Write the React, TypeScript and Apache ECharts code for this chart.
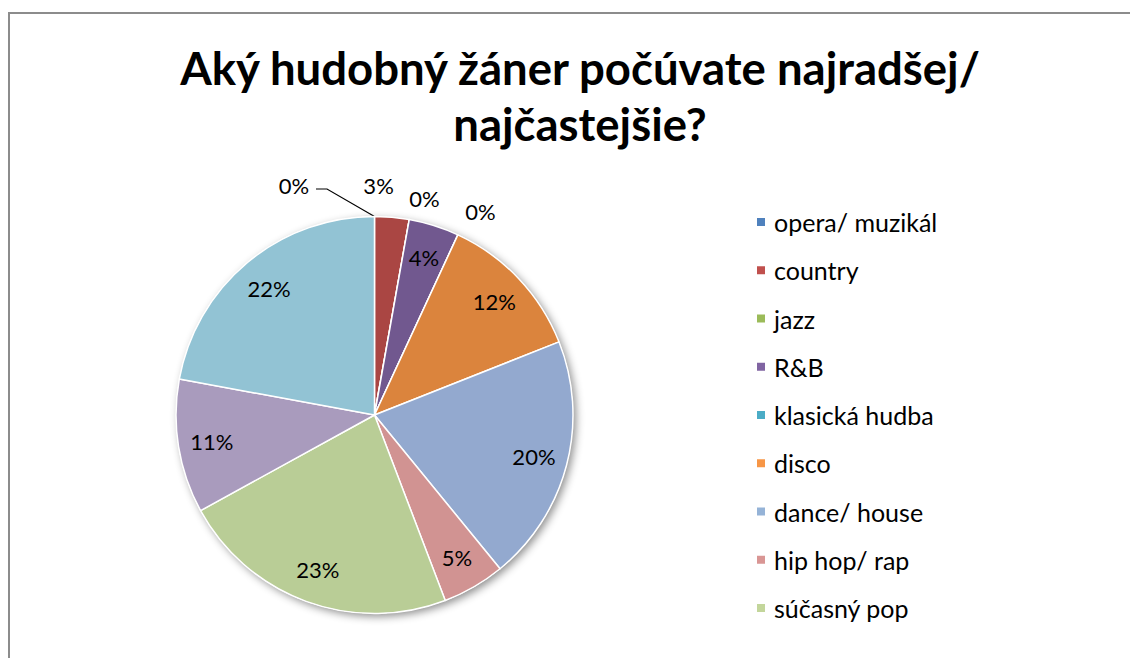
import React, { useEffect, useRef } from "react";
import * as echarts from "echarts";

// ---- data ----
const titleText = "Aký hudobný žáner počúvate najradšej/\nnajčastejšie?";
const categories = [
  "opera/ muzikál",
  "country",
  "jazz",
  "R&B",
  "klasická hudba",
  "disco",
  "dance/ house",
  "hip hop/ rap",
  "súčasný pop",
  "rock",
  "iné",
];
// share of answers (%)
const shares = [0, 2.8, 0, 4.1, 0, 12.1, 20.1, 5.1, 22.8, 10.9, 22.1];
// legend in the reference lists only the first nine categories
const legendCategories = categories.slice(0, 9);

// ---- styles ----
const sliceColors = [
  "#4F81BD", "#AA4643", "#9BBB59", "#71588F", "#4BACC6", "#DB843D",
  "#93A9CF", "#D19392", "#B9CD96", "#A99BBD", "#92C3D4",
];
const legendColors = [
  "#4F81BD", "#C0504D", "#9BBB59", "#8064A2", "#4BACC6", "#F79646",
  "#95B3D7", "#D99694", "#C3D69B",
];
const FONT = "Lato, 'Open Sans', sans-serif";
const CX = 366.5;
const CY = 407;
const R = 198.5;
const INSIDE_R = 0.83 * R;
const OUTSIDE_R = R + 30;
// fine nudges for the crowded outside labels (px)
const outsideNudge: Record<number, [number, number]> = {
  1: [-16, -2],
  2: [10, 8],
  4: [10, 4],
};

export default function App() {
  const ref = useRef<HTMLDivElement>(null);
  useEffect(() => {
    if (!ref.current) return;
    const chart = echarts.init(ref.current, undefined, { renderer: "svg" });
    const total = shares.reduce((a, b) => a + b, 0);
    const midAngle = (i: number) => {
      let cum = 0;
      for (let k = 0; k < i; k++) cum += shares[k];
      return ((cum + shares[i] / 2) / total) * Math.PI * 2;
    };
    const startAngle = (i: number) => {
      let cum = 0;
      for (let k = 0; k < i; k++) cum += shares[k];
      return (cum / total) * Math.PI * 2;
    };
    const isInside = (i: number) => shares[i] >= 4;

    const data = categories.map((name, i) => {
      const item: any = {
        name,
        value: shares[i],
        itemStyle: { color: sliceColors[i] },
      };
      if (i === 0) {
        item.label = { position: "outside" };
        item.labelLine = {
          show: true,
          lineStyle: { color: "#000", width: 1.2 },
        };
      }
      return item;
    });

    chart.setOption({
      animation: false,
      backgroundColor: "#fff",
      legend: {
        orient: "vertical",
        left: 742,
        top: 196.5,
        icon: "rect",
        itemWidth: 10,
        itemHeight: 10,
        itemGap: 23.25,
        selectedMode: false,
        textStyle: {
          fontFamily: FONT,
          fontSize: 25,
          lineHeight: 22,
          color: "#000",
          padding: [0, 0, 0, 3],
        },
        data: legendCategories.map((name, i) => ({
          name,
          itemStyle: { color: legendColors[i] },
        })),
      },
      graphic: [
        {
          type: "rect",
          shape: { x: 1, y: 5, width: 1300, height: 800 },
          style: { fill: "none", stroke: "#8c8c8c", lineWidth: 2 },
          silent: true,
          z: 100,
        },
        {
          type: "text",
          x: 572,
          y: 31,
          style: {
            text: titleText,
            font: `bold 45.5px ${FONT}`,
            fill: "#000",
            align: "center",
            verticalAlign: "top",
            lineHeight: 56,
          },
          silent: true,
        },
      ],
      series: [
        {
          type: "pie",
          center: [CX, CY],
          radius: R,
          silent: true,
          label: { show: false },
          labelLine: { show: false },
          itemStyle: {
            color: "#fff",
            shadowBlur: 8,
            shadowOffsetX: 3,
            shadowOffsetY: 3,
            shadowColor: "rgba(0,0,0,0.45)",
          },
          data: [{ value: 1, name: "__shadow" }],
        },
        {
          type: "pie",
          center: [CX, CY],
          radius: R,
          startAngle: 90,
          clockwise: true,
          avoidLabelOverlap: false,
          silent: true,
          itemStyle: { borderColor: "#fff", borderWidth: 1.5 },
          label: {
            show: true,
            position: "inside",
            color: "#000",
            fontFamily: FONT,
            fontSize: 22,
            formatter: (p: any) => Math.round(p.value) + "%",
          },
          labelLine: { show: false },
          labelLayout: (p: any) => {
            const i = p.dataIndex;
            if (i === 0) {
              const a = startAngle(0);
              const ex = CX + R * Math.sin(a);
              const ey = CY - R * Math.cos(a);
              return {
                x: 286,
                y: 177,
                align: "center",
                verticalAlign: "middle",
                labelLinePoints: [
                  [ex, ey],
                  [319, 181],
                  [308, 181],
                ],
              };
            }
            const a = midAngle(i);
            const r = isInside(i) ? INSIDE_R : OUTSIDE_R;
            const n = outsideNudge[i] || [0, 0];
            return {
              x: CX + r * Math.sin(a) + n[0],
              y: CY - r * Math.cos(a) + n[1],
              align: "center",
              verticalAlign: "middle",
            };
          },
          data,
        },
      ],
    });
    return () => chart.dispose();
  }, []);
  return <div ref={ref} style={{ width: 1122, height: 650 }} />;
}
